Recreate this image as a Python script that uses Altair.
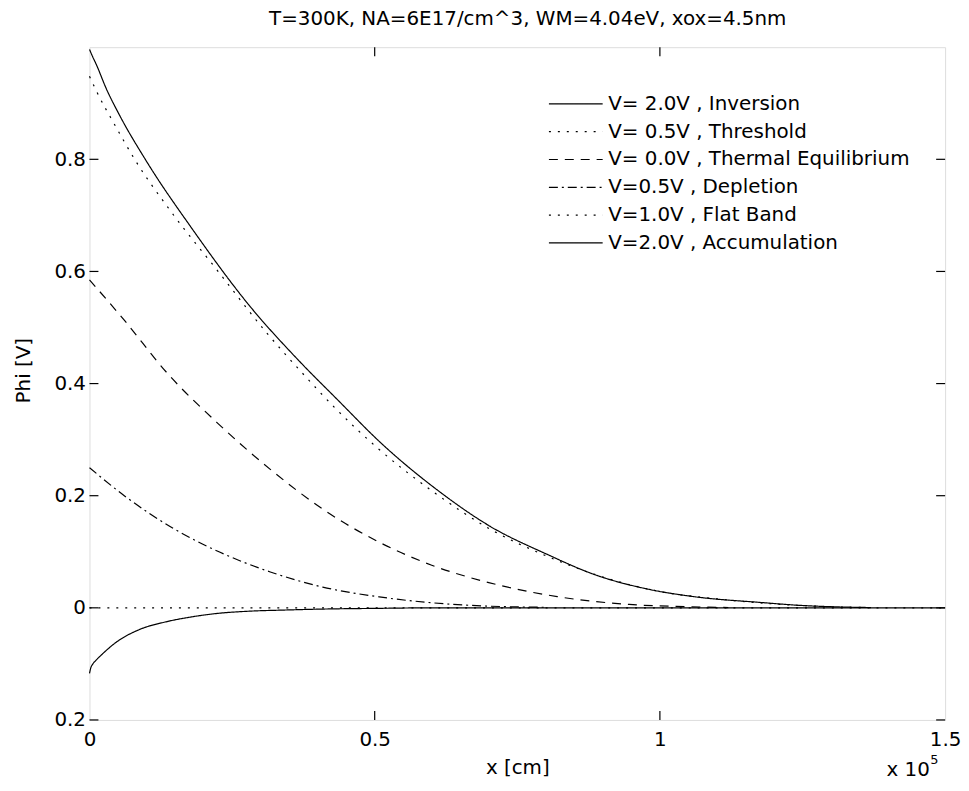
import altair as alt
import pandas as pd

# ---- data (x in units of 1e-5 cm, phi in V) ----
series_labels = [
    "V= 2.0V , Inversion",
    "V= 0.5V , Threshold",
    "V= 0.0V , Thermal Equilibrium",
    "V=0.5V , Depletion",
    "V=1.0V , Flat Band",
    "V=2.0V , Accumulation",
]
series_dash = [[1, 0], [2, 7], [9, 7], [9, 4, 2, 4], [2, 7], [1, 0]]

x_inv = [0, 0.006, 0.012, 0.029, 0.052, 0.099, 0.18, 0.282, 0.366, 0.436, 0.511, 0.61, 0.703, 0.801, 0.889, 0.976, 1.063, 1.179, 1.242, 1.30, 1.37]
y_inv = [0.996, 0.982, 0.969, 0.927, 0.880, 0.798, 0.676, 0.537, 0.442, 0.370, 0.294, 0.210, 0.145, 0.096, 0.058, 0.034, 0.0195, 0.0094, 0.0046, 0.002, 0.0005]

x_thr = [0, 0.012, 0.044, 0.081, 0.142, 0.224, 0.311, 0.372, 0.43, 0.505, 0.604, 0.703, 0.8, 0.9, 1.0, 1.1, 1.2, 1.3, 1.37]
y_thr = [0.948, 0.922, 0.862, 0.797, 0.708, 0.602, 0.490, 0.420, 0.357, 0.285, 0.206, 0.140, 0.093, 0.055, 0.029, 0.016, 0.007, 0.002, 0.0005]

x_teq = [0, 0.061, 0.136, 0.224, 0.317, 0.409, 0.508, 0.6, 0.7, 0.82, 0.946, 1.05, 1.12]
y_teq = [0.585, 0.513, 0.419, 0.330, 0.247, 0.176, 0.117, 0.076, 0.045, 0.020, 0.006, 0.002, 0.0005]

x_dep = [0, 0.061, 0.148, 0.229, 0.317, 0.409, 0.508, 0.6, 0.7, 0.8]
y_dep = [0.25, 0.200, 0.141, 0.099, 0.064, 0.037, 0.0195, 0.009, 0.003, 0.001]

x_fb = [0, 1.5]
y_fb = [0, 0]

x_acc = [0, 0.002, 0.006, 0.012, 0.023, 0.046, 0.087, 0.134, 0.18, 0.224, 0.28, 0.34, 0.42, 0.5, 0.6, 1.5]
y_acc = [-0.117, -0.108, -0.100, -0.093, -0.082, -0.062, -0.039, -0.025, -0.016, -0.010, -0.006, -0.004, -0.002, -0.001, 0, 0]

x_ticks = [0.5, 1.0]
y_ticks = [-0.2, 0, 0.2, 0.4, 0.6, 0.8]
x_tick_labels = [0, 0.5, 1, 1.5]

title_text = "T=300K, NA=6E17/cm^3, WM=4.04eV, xox=4.5nm"

# ---- build table ----
rows = []
for lab, xs, ys in zip(series_labels,
                       [x_inv, x_thr, x_teq, x_dep, x_fb, x_acc],
                       [y_inv, y_thr, y_teq, y_dep, y_fb, y_acc]):
    for a, b in zip(xs, ys):
        rows.append({"series": lab, "x": a, "phi": b})
df = pd.DataFrame(rows)

W, H = 861, 677
FONT = "DejaVu Sans"
FS = 20
TICK = 9

x_scale = alt.Scale(domain=[0, 1.5], nice=False, zero=False)
y_scale = alt.Scale(domain=[-0.2, 1.0], nice=False, zero=False)

x_axis = alt.Axis(values=x_tick_labels, title="x [cm]", ticks=False, domain=False, grid=False,
                  labelFlush=False, labelPadding=10, labelFontSize=FS, labelFont=FONT,
                  labelColor="black", labelExpr="toString(datum.value)",
                  titleFont=FONT, titleFontSize=FS, titleFontWeight="normal",
                  titleColor="black", titleY=48, titleBaseline="middle")
y_axis = alt.Axis(values=y_ticks, title="Phi [V]", ticks=False, domain=False, grid=False,
                  labelFlush=False, labelPadding=4, labelFontSize=FS, labelFont=FONT,
                  labelColor="black", labelExpr="toString(abs(datum.value))",
                  titleFont=FONT, titleFontSize=FS, titleFontWeight="normal", titleColor="black",
                  titleX=-66, titleY=325, titleBaseline="middle")

lines = alt.Chart(df).mark_line(color="black", strokeWidth=1.2, interpolate="monotone").encode(
    x=alt.X("x:Q", scale=x_scale, axis=x_axis),
    y=alt.Y("phi:Q", scale=y_scale, axis=y_axis),
    strokeDash=alt.StrokeDash(
        "series:N",
        scale=alt.Scale(domain=series_labels, range=series_dash),
        legend=alt.Legend(
            title=None, orient="none", legendX=501, legendY=47, padding=0,
            symbolType="M-9,0H1", symbolSize=117, symbolStrokeColor="black",
            symbolStrokeWidth=1.2, labelOffset=1, rowPadding=8,
            labelFont=FONT, labelFontSize=FS, labelColor="black", labelLimit=500,
        ),
    ),
    detail="series:N",
)

xt = pd.DataFrame({"x": x_ticks})
yt = pd.DataFrame({"phi": y_ticks})

xb = alt.Chart(xt).mark_rule(color="black", strokeWidth=1.2).encode(
    x=alt.X("x:Q", scale=x_scale, axis=x_axis), y=alt.value(H), y2=alt.value(H - TICK))
xtop = alt.Chart(xt).mark_rule(color="black", strokeWidth=1.2).encode(
    x=alt.X("x:Q", scale=x_scale, axis=x_axis), y=alt.value(0), y2=alt.value(TICK))
yl = alt.Chart(yt).mark_rule(color="black", strokeWidth=1.2).encode(
    y=alt.Y("phi:Q", scale=y_scale, axis=y_axis), x=alt.value(0), x2=alt.value(TICK))
yr = alt.Chart(yt).mark_rule(color="black", strokeWidth=1.2).encode(
    y=alt.Y("phi:Q", scale=y_scale, axis=y_axis), x=alt.value(W), x2=alt.value(W - TICK))

title_mark = alt.Chart(pd.DataFrame({"t": [title_text]})).mark_text(
    font=FONT, fontSize=FS, align="center", baseline="middle", color="black").encode(
    text="t:N", x=alt.value(441), y=alt.value(-28))
exp_main = alt.Chart(pd.DataFrame({"t": ["x 10"]})).mark_text(
    font=FONT, fontSize=FS, align="left", baseline="middle", color="black").encode(
    text="t:N", x=alt.value(802), y=alt.value(727))
exp_sup = alt.Chart(pd.DataFrame({"t": ["5"]})).mark_text(
    font=FONT, fontSize=13, align="left", baseline="middle", color="black").encode(
    text="t:N", x=alt.value(846), y=alt.value(717))

chart = alt.layer(lines, xb, xtop, yl, yr, title_mark, exp_main, exp_sup).properties(
    width=W, height=H,
    padding={"left": 82, "top": 37, "right": 16, "bottom": 60},
    autosize=alt.AutoSizeParams(type="none"),
).configure_view(stroke="black", strokeWidth=1.5).configure(background="white")

chart.save("out.html", embed_options={"renderer": "svg", "actions": False})
